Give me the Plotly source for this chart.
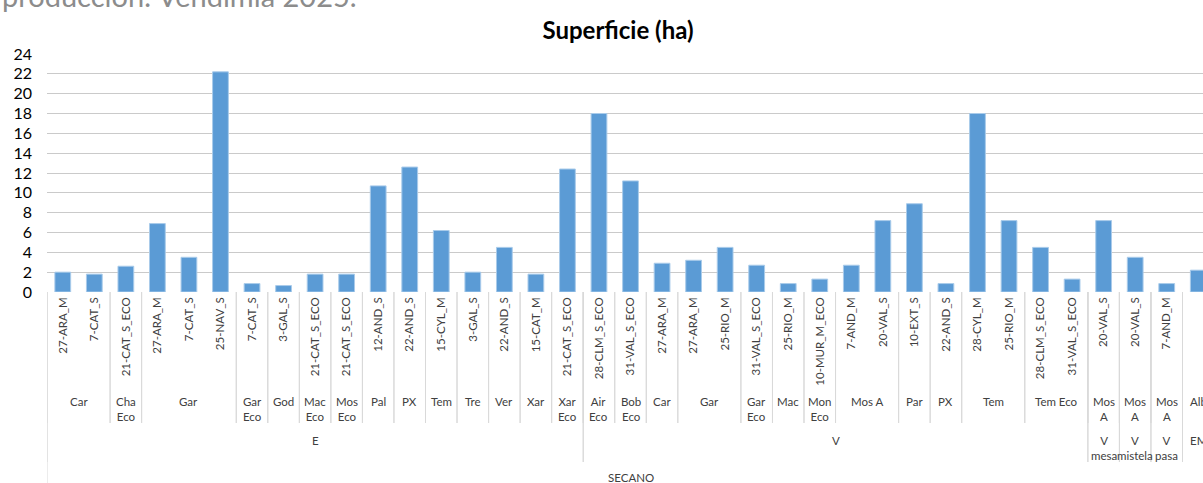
import plotly.graph_objects as go

# ---- data ----
level1 = ["27-ARA_M", "7-CAT_S", "21-CAT_S_ECO", "27-ARA_M", "7-CAT_S", "25-NAV_S",
          "7-CAT_S", "3-GAL_S", "21-CAT_S_ECO", "21-CAT_S_ECO", "12-AND_S", "22-AND_S",
          "15-CYL_M", "3-GAL_S", "22-AND_S", "15-CAT_M", "21-CAT_S_ECO",
          "28-CLM_S_ECO", "31-VAL_S_ECO", "27-ARA_M", "27-ARA_M", "25-RIO_M",
          "31-VAL_S_ECO", "25-RIO_M", "10-MUR_M_ECO", "7-AND_M", "20-VAL_S",
          "10-EXT_S", "22-AND_S", "28-CYL_M", "25-RIO_M", "28-CLM_S_ECO", "31-VAL_S_ECO",
          "20-VAL_S", "20-VAL_S", "7-AND_M", "3-GAL_M"]
level2 = ["Car", "Car", "Cha Eco", "Gar", "Gar", "Gar",
          "Gar Eco", "God", "Mac Eco", "Mos Eco", "Pal", "PX",
          "Tem", "Tre", "Ver", "Xar", "Xar Eco",
          "Air Eco", "Bob Eco", "Car", "Gar", "Gar",
          "Gar Eco", "Mac", "Mon Eco", "Mos A", "Mos A",
          "Par", "PX", "Tem", "Tem", "Tem Eco", "Tem Eco",
          "Mos A", "Mos A", "Mos A", "Alb"]
level3 = ["E"] * 17 + ["V"] * 16 + ["V mesa", "V mistela", "V pasa", "EM"]
level4 = ["SECANO"] * 37
superficie = [2.0, 1.8, 2.6, 6.9, 3.5, 22.2,
              0.85, 0.65, 1.8, 1.8, 10.7, 12.6,
              6.2, 2.0, 4.5, 1.8, 12.4,
              18.0, 11.2, 2.9, 3.2, 4.5,
              2.7, 0.85, 1.3, 2.7, 7.2,
              8.9, 0.85, 18.0, 7.2, 4.5, 1.3,
              7.2, 3.5, 0.85, 2.2]
y_ticks = list(range(0, 25, 2))

# ---- layout geometry (pixels) ----
W, H = 1203, 483
PL, PT, PB = 47, 54, 292
PH = PB - PT
def py(px):
    return (PB - px) / PH

FONT = "Lato, 'Open Sans', sans-serif"
TXT = "#404040"
SEP = "#D9D9D9"

x = list(range(len(level1)))

fig = go.Figure(go.Bar(
    x=x, y=superficie,
    marker=dict(color="#5B9BD5", line=dict(color="#A9CBEA", width=1)),
    width=0.5,
))

def groups_nested(levels):
    # a group breaks whenever any label at this level or above changes
    keys = list(zip(*levels))
    out = []
    start = 0
    for i in range(1, len(keys) + 1):
        if i == len(keys) or keys[i] != keys[start]:
            out.append((keys[start][0], start, i - 1))
            start = i
    return out

annotations = []
shapes = []

def add_level(grps, ytop, yline, size=11.5):
    for lab, a, b in grps:
        span = b - a + 1
        text = lab.replace(" ", "<br>") if span == 1 else lab
        annotations.append(dict(
            x=(a + b) / 2, xref="x", y=py(ytop), yref="paper",
            text=text, showarrow=False, xanchor="center", yanchor="top",
            font=dict(family=FONT, size=size, color=TXT)))
        if yline is not None:
            for edge in (a - 0.5, b + 0.5):
                shapes.append(dict(type="line", xref="x", yref="paper",
                                   x0=edge, x1=edge, y0=py(PB), y1=py(yline),
                                   line=dict(color=SEP, width=1)))

add_level(groups_nested([level2, level3, level4]), 393, 423)
add_level(groups_nested([level3, level4]), 432, 462)
add_level(groups_nested([level4]), 469, None)

# left border of the category table
shapes.append(dict(type="line", xref="x", yref="paper", x0=-0.5, x1=-0.5,
                   y0=py(PB), y1=py(H), line=dict(color=SEP, width=1)))

# heading of the surrounding document, cut at the top
annotations.append(dict(
    x=(0 - PL) / (W - PL), xref="paper", y=py(15), yref="paper",
    text="producción: Vendimia 2025.", showarrow=False,
    xanchor="left", yanchor="bottom",
    font=dict(family=FONT, size=29, color="#8C8C8C")))

fig.update_layout(
    width=W, height=H,
    margin=dict(l=PL, r=0, t=PT, b=H - PB, pad=0),
    paper_bgcolor="white", plot_bgcolor="white",
    showlegend=False,
    title=dict(text="<b>Superficie (ha)</b>", x=618 / W, xref="container", xanchor="center",
               y=1 - 31 / H, yref="container", yanchor="middle",
               font=dict(family=FONT, size=24, color="#000000")),
    xaxis=dict(
        tickmode="array", tickvals=x, ticktext=level1, tickangle=-90,
        range=[-0.5, 36.15], showgrid=False, zeroline=False, showline=False,
        ticks="", ticklabelstandoff=2,
        tickfont=dict(family=FONT, size=11.5, color=TXT),
    ),
    yaxis=dict(
        range=[0, 24], tickmode="array", tickvals=y_ticks,
        showgrid=True, gridcolor="#CACACA", gridwidth=1, zeroline=False,
        showline=False, ticks="", ticklabelstandoff=14,
        tickfont=dict(family=FONT, size=16, color="#000000"),
    ),
    annotations=annotations,
    shapes=shapes,
)

fig.write_html(
    "out.html",
    config={"displayModeBar": False},
    post_script="document.body.style.margin='0';document.body.style.overflow='hidden';",
)
